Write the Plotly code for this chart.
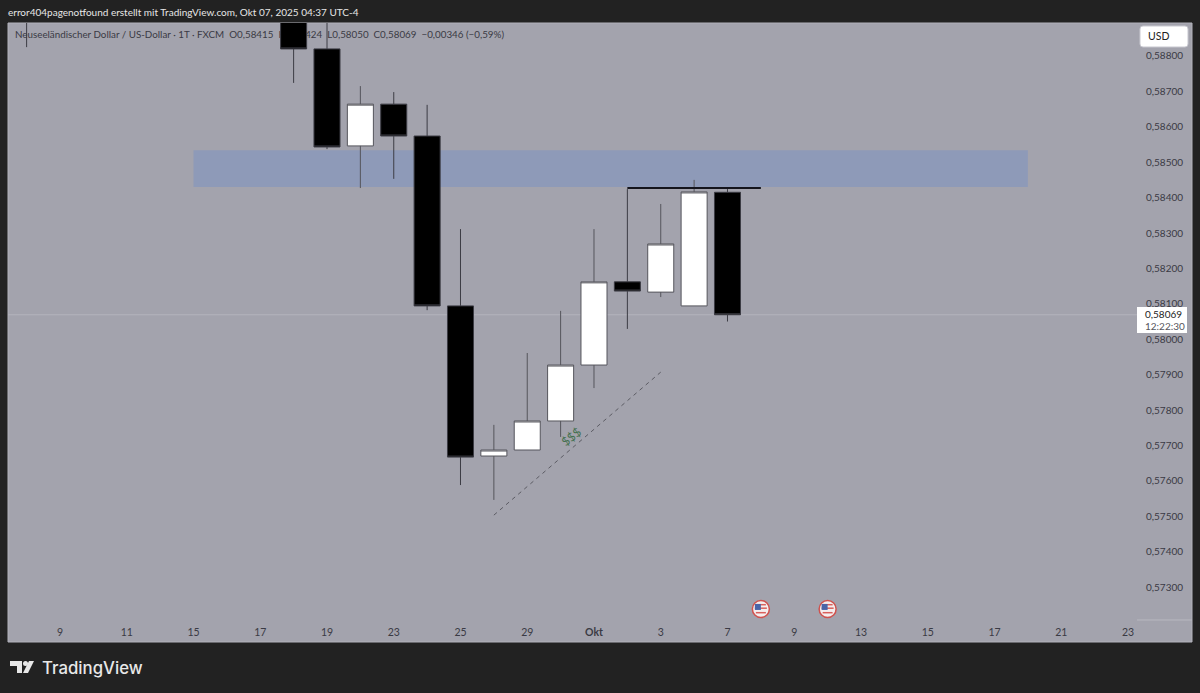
import plotly.graph_objects as go

# ---- data ----
trading_days = ["2025-09-08","2025-09-09","2025-09-10","2025-09-11","2025-09-12","2025-09-15","2025-09-16","2025-09-17",
    "2025-09-18","2025-09-19","2025-09-22","2025-09-23","2025-09-24","2025-09-25","2025-09-26","2025-09-29","2025-09-30",
    "2025-10-01","2025-10-02","2025-10-03","2025-10-06","2025-10-07","2025-10-08","2025-10-09","2025-10-10","2025-10-13",
    "2025-10-14","2025-10-15","2025-10-16","2025-10-17","2025-10-20","2025-10-21","2025-10-22","2025-10-23"]
dates = ["2025-09-08","2025-09-18","2025-09-19","2025-09-22","2025-09-23","2025-09-24","2025-09-25","2025-09-26",
    "2025-09-29","2025-09-30","2025-10-01","2025-10-02","2025-10-03","2025-10-06","2025-10-07"]
opens  = [0.5900,0.5900,0.58820,0.58546,0.58664,0.58574,0.58094,0.57670,0.57687,0.57769,0.57927,0.58162,0.58133,0.58094,0.58415]
highs  = [0.5905,0.5905,0.5900,0.58715,0.58698,0.58662,0.58311,0.57758,0.57961,0.58080,0.58311,0.58424,0.58382,0.58450,0.58424]
lows   = [0.58825,0.58724,0.58537,0.58427,0.58453,0.58082,0.57588,0.57546,0.57687,0.57724,0.57862,0.58029,0.58119,0.58094,0.58050]
closes = [0.5895,0.58820,0.58543,0.58664,0.58574,0.58094,0.57667,0.57687,0.57769,0.57927,0.58162,0.58136,0.58269,0.58416,0.58069]

x_tick_dates = ["2025-09-09","2025-09-11","2025-09-15","2025-09-17","2025-09-19","2025-09-23","2025-09-25","2025-09-29",
    "2025-10-01","2025-10-03","2025-10-07","2025-10-09","2025-10-13","2025-10-15","2025-10-17","2025-10-21","2025-10-23"]
x_tick_labels = ["9","11","15","17","19","23","25","29","<b>Okt</b>","3","7","9","13","15","17","21","23"]
y_tick_values = [0.573,0.574,0.575,0.576,0.577,0.578,0.579,0.580,0.581,0.582,0.583,0.584,0.585,0.586,0.587,0.588]
y_tick_labels = ["0,57300","0,57400","0,57500","0,57600","0,57700","0,57800","0,57900","0,58000","0,58100","0,58200",
    "0,58300","0,58400","0,58500","0,58600","0,58700","0,58800"]

zone_dates = ["2025-09-15","2025-10-20"]
zone_prices = [0.58430,0.58534]
level_dates = ["2025-10-02","2025-10-08"]
level_price = 0.58427
trend_dates = ["2025-09-26","2025-10-03"]
trend_prices = [0.57503,0.57907]
event_dates = ["2025-10-08","2025-10-10"]
event_price = 0.57238
last_price = 0.58069

header_text = "error404pagenotfound erstellt mit TradingView.com, Okt 07, 2025 04:37 UTC-4"
legend_text = "Neuseeländischer Dollar / US-Dollar · 1T · FXCM  O0,58415  H0,58424  L0,58050  C0,58069  −0,00346 (−0,59%)"

# ---- layout constants ----
W, H = 1200, 693
L, R, T, B = 8, 1137, 23, 620
FONT = "Lato"
TXT = "#3a3a44"
PANEL = "#a3a3ad"

def px(x): return (x - L) / (R - L)
def py(y): return (B - y) / (B - T)
def ppath(points):
    return "M" + " L".join(f"{px(a):.5f},{py(b):.5f}" for a, b in points) + " Z"

fig = go.Figure(go.Candlestick(
    x=dates, open=opens, high=highs, low=lows, close=closes,
    increasing=dict(fillcolor="#ffffff", line=dict(color="#55555c", width=1)),
    decreasing=dict(fillcolor="#000000", line=dict(color="#3c3c44", width=1)),
    whiskerwidth=0, hoverinfo="skip", showlegend=False))

shapes = [
    dict(type="rect", xref="paper", yref="paper", x0=px(8), x1=px(1192), y0=py(23), y1=py(642),
         fillcolor=PANEL, line=dict(color="#b2b2bb", width=1), layer="below"),
    dict(type="line", xref="paper", yref="paper", x0=px(1137), x1=px(1192), y0=py(620), y1=py(620),
         line=dict(color="#b8b8c0", width=1), layer="below"),
    # legend line, beneath the candles as in the reference
    dict(type="rect", xref="paper", yref="paper", x0=px(10), x1=px(700), y0=py(44), y1=py(24),
         line=dict(width=0), fillcolor="rgba(0,0,0,0)", layer="below",
         label=dict(text=legend_text, textposition="middle left", padding=2,
                    font=dict(family=FONT, size=9.8, color=TXT))),
    dict(type="rect", xref="x", yref="y", x0=zone_dates[0], x1=zone_dates[1], y0=zone_prices[0], y1=zone_prices[1],
         fillcolor="#8e9ab8", line=dict(width=0), layer="below"),
    dict(type="line", xref="paper", yref="y", x0=0, x1=1, y0=last_price, y1=last_price,
         line=dict(color="#b4b4bc", width=1), layer="below"),
    dict(type="line", xref="x", yref="y", x0=level_dates[0], x1=level_dates[1], y0=level_price, y1=level_price,
         line=dict(color="#14141c", width=2)),
    dict(type="line", xref="x", yref="y", x0=trend_dates[0], x1=trend_dates[1], y0=trend_prices[0], y1=trend_prices[1],
         line=dict(color="#5c5c64", width=1, dash="4px,4px")),
    # USD button
    dict(type="path", xref="paper", yref="paper", fillcolor="#ffffff", line=dict(color="#c8c8d0", width=1),
         path=(f"M{px(1143):.5f},{py(26):.5f} L{px(1185):.5f},{py(26):.5f} "
               f"Q{px(1188):.5f},{py(26):.5f} {px(1188):.5f},{py(29):.5f} L{px(1188):.5f},{py(44):.5f} "
               f"Q{px(1188):.5f},{py(47):.5f} {px(1185):.5f},{py(47):.5f} L{px(1143):.5f},{py(47):.5f} "
               f"Q{px(1140):.5f},{py(47):.5f} {px(1140):.5f},{py(44):.5f} L{px(1140):.5f},{py(29):.5f} "
               f"Q{px(1140):.5f},{py(26):.5f} {px(1143):.5f},{py(26):.5f} Z")),
    # last-price tag
    dict(type="rect", xref="paper", yref="paper", x0=px(1137), x1=px(1187), y0=py(333), y1=py(307),
         fillcolor="#ffffff", line=dict(width=0)),
    # TradingView logo
    dict(type="path", xref="paper", yref="paper", fillcolor="#e8e8e8", line=dict(width=0),
         path=ppath([(10,661),(22,661),(22,673),(17,673),(17,666),(10,666)])),
    dict(type="circle", xref="paper", yref="paper", x0=px(23), x1=px(28), y0=py(666), y1=py(661),
         fillcolor="#e8e8e8", line=dict(width=0)),
    dict(type="path", xref="paper", yref="paper", fillcolor="#e8e8e8", line=dict(width=0),
         path=ppath([(29,661),(34,661),(28,673),(23,673)])),
]

# event flags, anchored on the date and price scale, sized in pixels
for d in event_dates:
    def flag(kind, a, b, c, e, color, line=None):
        shapes.append(dict(type=kind, xref="x", yref="y", xsizemode="pixel", ysizemode="pixel",
                           xanchor=d, yanchor=event_price, x0=a, x1=b, y0=c, y1=e,
                           fillcolor=color, line=line or dict(width=0)))
    flag("circle", -8.5, 8.5, -8.5, 8.5, "#f4eeee", dict(color="#d0524e", width=1.5))
    flag("rect", -5, 5, -4.5, -3, "#d9605c")
    flag("rect", -6, 6, 0, 1.5, "#d9605c")
    flag("rect", -5, 5, 3.5, 5, "#d9605c")
    flag("rect", -6, 0, -1, 5, "#4a64a8")

annotations = [
    dict(xref="paper", yref="paper", x=px(6), y=py(12), xanchor="left", yanchor="middle", showarrow=False,
         text=header_text, font=dict(family=FONT, size=10, color="#e6e6e6")),
    dict(xref="paper", yref="paper", x=px(1146), y=py(36), xanchor="left", yanchor="middle", showarrow=False,
         text="USD", font=dict(family=FONT, size=10.5, color="#222222")),
    dict(xref="paper", yref="paper", x=px(1143), y=py(314), xanchor="left", yanchor="middle", showarrow=False,
         text="0,58069", font=dict(family=FONT, size=10, color="#222222")),
    dict(xref="paper", yref="paper", x=px(1143), y=py(326), xanchor="left", yanchor="middle", showarrow=False,
         text="12:22:30", font=dict(family=FONT, size=10, color="#55555c")),
    dict(xref="paper", yref="paper", x=px(40), y=py(668), xanchor="left", yanchor="middle", showarrow=False,
         text="TradingView", font=dict(family="Inter", size=16.8, color="#e8e8e8", weight=500)),
    dict(xref="x", yref="y", x="2025-09-30", y=0.57724, xshift=11, showarrow=False, textangle=-38,
         text="$$$", font=dict(family=FONT, size=12, color="#44704f")),
]

fig.update_layout(
    width=W, height=H, autosize=False,
    margin=dict(l=L, r=W - R, t=T, b=H - B, pad=0),
    paper_bgcolor="#222222", plot_bgcolor=PANEL,
    showlegend=False, boxgap=0.22, boxgroupgap=0, shapes=shapes, annotations=annotations,
    hovermode=False,
    xaxis=dict(type="category", categoryorder="array", categoryarray=trading_days,
               range=[-0.558, 33.27], rangeslider=dict(visible=False), fixedrange=True,
               tickmode="array", tickvals=x_tick_dates, ticktext=x_tick_labels,
               showgrid=False, zeroline=False, showline=False, ticks="", ticklabelstandoff=4,
               tickfont=dict(family=FONT, size=10.5, color=TXT)),
    yaxis=dict(range=[0.572068, 0.588932], side="right", fixedrange=True,
               tickmode="array", tickvals=y_tick_values, ticktext=y_tick_labels,
               showgrid=False, zeroline=False, showline=False, ticks="", ticklabelstandoff=8,
               tickfont=dict(family=FONT, size=10, color=TXT)),
)

fig.write_html("out.html", config=dict(displayModeBar=False),
               post_script="document.body.style.margin='0';document.body.style.background='#222222';")
